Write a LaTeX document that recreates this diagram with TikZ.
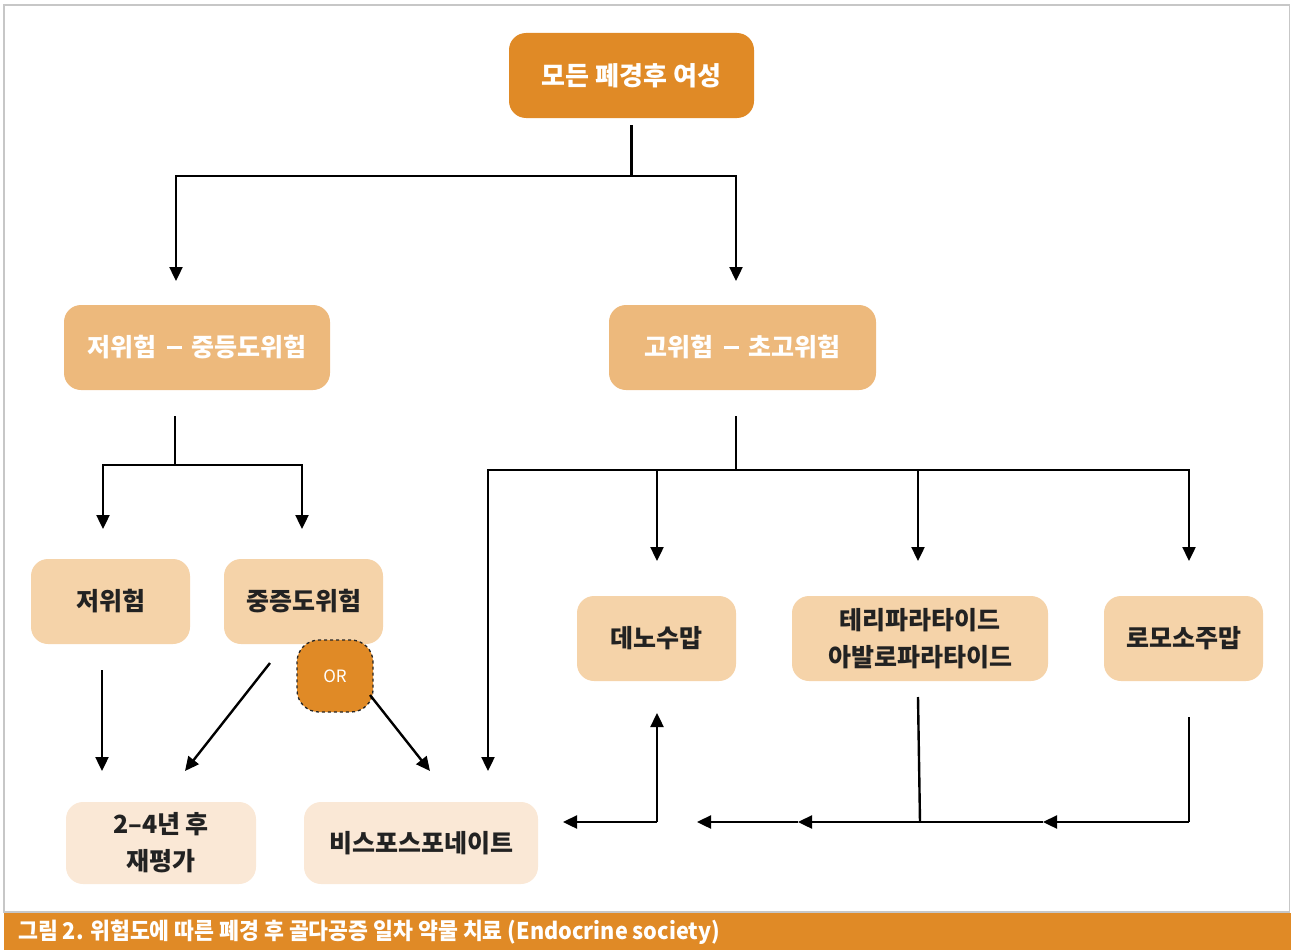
\documentclass[tikz,border=0pt]{standalone}
\usepackage{fontspec}
\newfontfamily\kr{Noto Sans CJK KR}
\usetikzlibrary{arrows.meta}
\definecolor{dorange}{HTML}{E08A26}
\definecolor{lorange}{HTML}{EDB97C}
\definecolor{peach}{HTML}{F5D3A9}
\definecolor{pale}{HTML}{FAE8D6}
\definecolor{txt}{HTML}{222222}
\newcommand{\krdash}{\hspace{0.4em}\rule[0.33em]{0.6em}{0.1em}\hspace{0.4em}}
\tikzset{
  box/.style={rounded corners=17pt, inner sep=0pt, align=center, font=\kr\bfseries\fontsize{25}{37}\selectfont},
  topbox/.style={box, fill=dorange, text=white},
  midbox/.style={box, fill=lorange, text=white, minimum height=85pt},
  drugbox/.style={box, fill=peach, text=txt, minimum height=85pt},
  endbox/.style={box, fill=pale, text=txt, minimum height=82pt},
  ln/.style={line width=2.4pt, black},
  arr/.style={ln, -{Triangle[length=14pt,width=13pt]}},
}
\begin{document}
\begin{tikzpicture}[x=1pt,y=-1pt]
\useasboundingbox (0,0) rectangle (1291,950);
% frame and caption
\draw[black!22, line width=1.5pt] (4,5) rectangle (1289.5,912);
\fill[dorange] (4,912.5) rectangle (1291,950);
\node[anchor=west, text=white, inner sep=0pt, font=\kr\bfseries\fontsize{23}{26}\selectfont] (cap) at (18,932)
  {\scalebox{0.94}[1]{그림 2. 위험도에 따른 폐경 후 골다공증 일차 약물 치료 (Endocrine society)}};
% nodes
\node[topbox, minimum width=245pt, minimum height=85pt, font=\kr\bfseries\fontsize{26}{30}\selectfont] (top) at (631.5,75.5) {모든 폐경후 여성};
\node[midbox, minimum width=266pt] (L1) at (197,347.5) {저위험\krdash{}중등도위험};
\node[midbox, minimum width=267pt] (R1) at (742.5,347.5) {고위험\krdash{}초고위험};
\node[drugbox, minimum width=159pt] (low) at (110.5,601.5) {저위험};
\node[drugbox, minimum width=159pt] (mod) at (303.5,601.5) {중증도위험};
\node[drugbox, minimum width=159pt] (deno) at (656.5,638.5) {데노수맙};
\node[drugbox, minimum width=256pt] (teri) at (920,638.5) {테리파라타이드\\아발로파라타이드};
\node[drugbox, minimum width=159pt] (romo) at (1183.5,638.5) {로모소주맙};
\node[endbox, minimum width=190pt] (reval) at (161,843) {2–4년 후\\재평가};
\node[endbox, minimum width=234pt] (bis) at (421,843) {비스포스포네이트};
\node[fill=dorange, draw=black!85, dashed, line width=1.3pt, rounded corners=22pt, minimum width=76pt, minimum height=72pt, inner sep=0pt, text=white, font=\kr\fontsize{17}{20}\selectfont] (or) at (335,676) {OR};
% connectors
\coordinate (j1) at (631.5,176);
\coordinate (eL1) at (176,281);
\coordinate (eR1) at (736,281);
\draw[ln, shorten <=7pt] (top.south) -- (j1);
\draw[arr] (j1) -| (eL1);
\draw[arr] (j1) -| (eR1);
\coordinate (j2) at (175,465);
\coordinate (e1) at (103,529);
\coordinate (e2) at (302,529);
\draw[ln, shorten <=26pt] (L1.south -| j2) -- (j2);
\draw[arr] (j2) -| (e1);
\draw[arr] (j2) -| (e2);
\coordinate (j3) at (736,470);
\coordinate (eb) at (488,771);
\coordinate (ed) at (657,561);
\coordinate (et) at (918,561);
\coordinate (er) at (1189,561);
\draw[ln, shorten <=26pt] (R1.south -| j3) -- (j3);
\draw[arr] (j3) -| (eb);
\draw[arr] (j3) -| (er);
\draw[arr] (j3 -| ed) -- (ed);
\draw[arr] (j3 -| et) -- (et);
% lower
\coordinate (s1) at (102,670);
\coordinate (t1) at (102,771);
\draw[arr] (s1) -- (t1);
\coordinate (s2) at (270,663);
\coordinate (t2) at (185,771);
\draw[arr] (s2) -- (t2);
\coordinate (s3) at (370,695);
\coordinate (t3) at (430,771);
\draw[arr] (s3) -- (t3);
% denosumab loop
\coordinate (d0) at (657,822);
\coordinate (d1) at (657,713);
\coordinate (d2) at (563,822);
\draw[arr] (d0) -- (d1);
\draw[arr] (d0) -- (d2);
% teri / romo
\coordinate (m0) at (918,697);
\coordinate (m1) at (920,822);
\coordinate (r0) at (1189,717);
\coordinate (r1) at (1189,822);
\coordinate (a1) at (1043,822);
\coordinate (a2) at (798,822);
\coordinate (a3) at (697,822);
\draw[ln] (m0) -- (m1);
\draw[ln] (r0) -- (r1);
\draw[arr] (r1) -- (a1);
\draw[ln] (a1) -- (m1);
\draw[arr] (m1) -- (a2);
\draw[arr] (a2) -- (a3);
\end{tikzpicture}
\end{document}
